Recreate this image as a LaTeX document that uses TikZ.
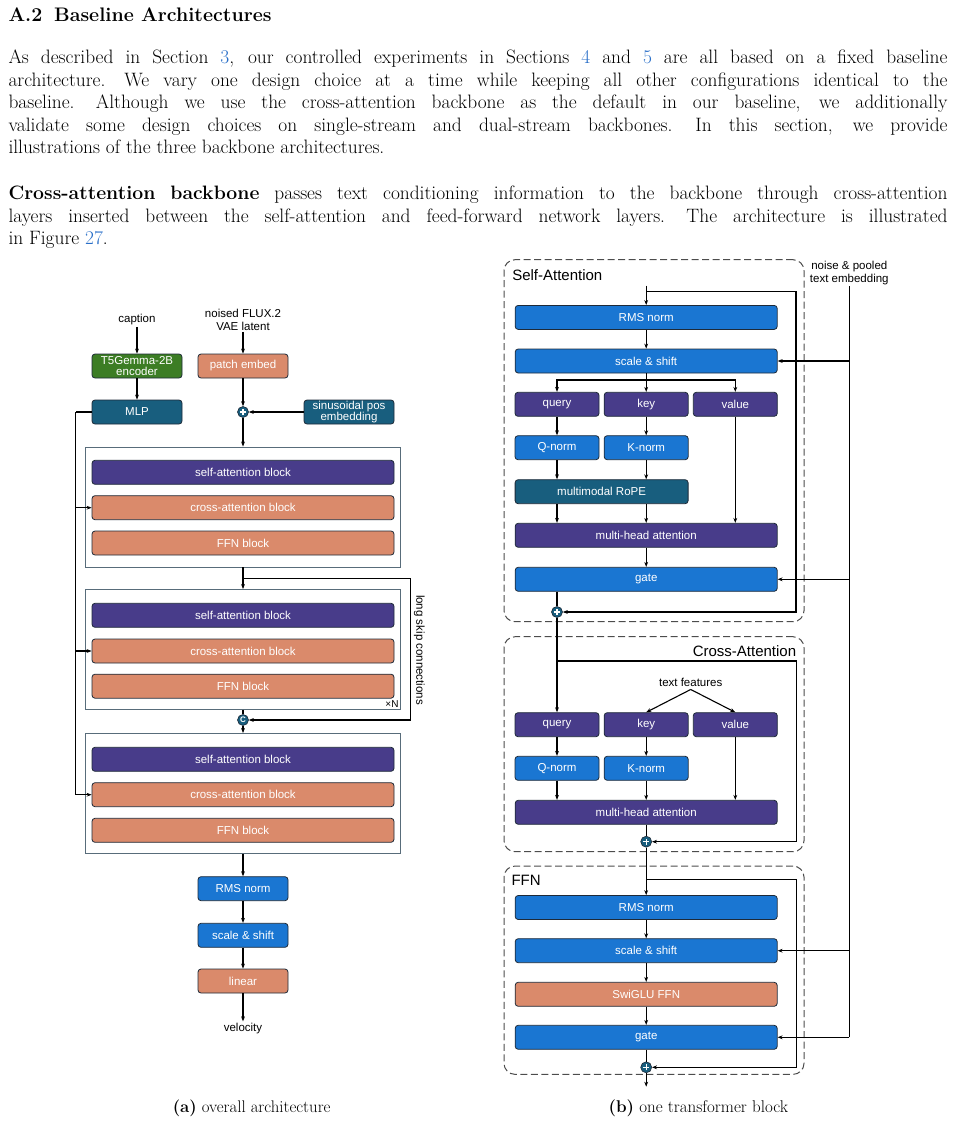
\documentclass[tikz,border=0pt]{standalone}
\usepackage{fontspec}
\setsansfont{Liberation Sans}
\usetikzlibrary{arrows.meta}
\definecolor{purp}{RGB}{72,60,138}
\definecolor{salm}{RGB}{218,138,107}
\definecolor{azur}{RGB}{26,118,210}
\definecolor{tealc}{RGB}{24,94,126}
\definecolor{grn}{RGB}{60,125,36}
\definecolor{edgec}{RGB}{30,42,56}
\definecolor{grpc}{RGB}{88,108,122}
\definecolor{linkc}{RGB}{40,110,200}
\newcommand{\reflink}[1]{\textcolor{linkc}{#1}}
\newcommand{\fullline}[1]{\makebox[939pt][s]{\spaceskip=0.25em plus 1fil\relax
  \xspaceskip=0.36em plus 1.3fil\relax #1}}

\begin{document}
\begin{tikzpicture}[x=1pt, y=-1pt, line width=1.1pt,
  arr/.style={-{Stealth[length=5pt,width=3.8pt]}},
  body/.style={anchor=base west, inner sep=0pt, font=\fontsize{19.4}{22}\selectfont},
  lbl/.style={inner sep=1pt, align=center, font=\sffamily\fontsize{11.5}{13}\selectfont},
  ttl/.style={inner sep=0pt, font=\sffamily\fontsize{15}{17}\selectfont},
  blk/.style={draw=edgec, line width=0.8pt, rounded corners=3pt, text=white, inner sep=0pt,
    minimum height=24pt, align=center, font=\sffamily\fontsize{11.5}{12.5}\selectfont},
  sbox/.style={blk, minimum width=90pt},
  wbox/.style={blk, minimum width=302pt},
  rbox/.style={blk, minimum width=262pt},
  qbox/.style={blk, minimum width=84pt},
  grp/.style={draw=grpc, line width=0.9pt, minimum width=315pt, minimum height=120pt, inner sep=0pt},
  dgrp/.style={draw=black!70, line width=1pt, dash pattern=on 7pt off 3.5pt, rounded corners=11pt,
    minimum width=300pt, inner sep=0pt},
  plusc/.style={circle, fill=tealc, draw=edgec, line width=0.6pt, minimum size=11pt, inner sep=0pt,
    path picture={\draw[white, line width=1.3pt]
      ([xshift=-3pt]path picture bounding box.center) -- ([xshift=3pt]path picture bounding box.center)
      ([yshift=-3pt]path picture bounding box.center) -- ([yshift=3pt]path picture bounding box.center);}},
  catc/.style={circle, fill=tealc, draw=edgec, line width=0.6pt, minimum size=11pt, inner sep=0pt,
    text=white, font=\sffamily\bfseries\fontsize{8}{8}\selectfont}]
\useasboundingbox (0,0) rectangle (955,1122);

\node[anchor=base west, inner sep=0pt, font=\bfseries\fontsize{19.6}{22}\selectfont] (head) at (8,21) {A.2\hspace{0.6em}Baseline Architectures};
\node[body] (pa1) at (8,63) {\fullline{As described in Section \reflink{3}, our controlled experiments in Sections \reflink{4} and \reflink{5} are all based on a fixed baseline}};
\node[body] (pa2) at (8,86) {\fullline{architecture. We vary one design choice at a time while keeping all other configurations identical to the}};
\node[body] (pa3) at (8,108) {\fullline{baseline. Although we use the cross-attention backbone as the default in our baseline, we additionally}};
\node[body] (pa4) at (8,131) {\fullline{validate some design choices on single-stream and dual-stream backbones. In this section, we provide}};
\node[body] (pa5) at (8,153) {illustrations of the three backbone architectures.};
\node[body] (pb1) at (8,199) {\fullline{\textbf{Cross-attention backbone} passes text conditioning information to the backbone through cross-attention}};
\node[body] (pb2) at (8,222) {\fullline{layers inserted between the self-attention and feed-forward network layers. The architecture is illustrated}};
\node[body] (pb3) at (8,244) {in Figure \reflink{27}.};

\draw (243,507) node[grp](grp1){}
    (243,649.5) node[grp](grp2){}
    (243,793.5) node[grp](grp3){};
\draw (137,320) node[lbl](cap){caption}
    (137,366) node[sbox, fill=grn](t5){T5Gemma-2B\\[-1pt]encoder}
    (137,412) node[sbox, fill=tealc](mlp){MLP}
    (243,319.5) node[lbl](noised){noised FLUX.2\\VAE latent}
    (243,366) node[sbox, fill=salm](patch){patch embed}
    (243,412) node[plusc](add1){}
    (349,412) node[sbox, fill=tealc](sin){sinusoidal pos\\[-1pt]embedding};
\draw (243,472.3) node[wbox, fill=purp](sa1){self-attention block}
    (243,507.7) node[wbox, fill=salm](ca1){cross-attention block}
    (243,543) node[wbox, fill=salm](ffn1){FFN block}
    (243,615.3) node[wbox, fill=purp](sa2){self-attention block}
    (243,651) node[wbox, fill=salm](ca2){cross-attention block}
    (243,686.2) node[wbox, fill=salm](ffn2){FFN block}
    (243,759.3) node[wbox, fill=purp](sa3){self-attention block}
    (243,794.7) node[wbox, fill=salm](ca3){cross-attention block}
    (243,830.3) node[wbox, fill=salm](ffn3){FFN block};
\draw (243,720) node[catc](cat){C}
    (392,704) node[lbl, font=\sffamily\fontsize{10}{11}\selectfont](xn){×N}
    (419.3,650) node[lbl, rotate=-90](skip){long skip connections}
    (243,888.7) node[sbox, fill=azur](rms0){RMS norm}
    (243,935.3) node[sbox, fill=azur](ss0){scale \& shift}
    (243,981) node[sbox, fill=salm](lin){linear}
    (243,1028.3) node[lbl](vel){velocity}
    (251.7,1108) node[font=\fontsize{16.8}{18}\selectfont](capa){\textbf{(a)} overall architecture};

\coordinate (bus) at (75.7,412);
\coordinate (skipa) at (243,578.3);
\coordinate (skipr) at (410.7,578.3);
\draw [arr] (cap) -- (t5);
\draw [arr] (t5) -- (mlp);
\draw [arr] (noised) -- (patch);
\draw [arr] (patch) -- (add1);
\draw [arr] (sin) -- (add1);
\draw [arr] (add1) -- (grp1);
\draw [arr] (grp1) -- (grp2);
\draw [arr] (skipa) -- (skipr) |- (cat);
\draw (grp2) -- (cat);
\draw [arr] (cat) -- (grp3);
\draw [arr] (grp3) -- (rms0);
\draw [arr] (rms0) -- (ss0);
\draw [arr] (ss0) -- (lin);
\draw [arr] (lin) -- (vel);
\draw (mlp) -- (bus);
\foreach \c in {ca1,ca2,ca3}
    \draw [arr] (bus) |- (\c);

\draw (654,440.7) node[dgrp, minimum height=362pt](sagrp){}
    (654,744.2) node[dgrp, minimum height=215pt](cagrp){}
    (654,970.2) node[dgrp, minimum height=208.3pt](ffgrp){};
\draw (511.7,275) node[ttl, anchor=west](satl){Self-Attention}
    (796.7,651) node[ttl, anchor=east](catl){Cross-Attention}
    (511,880.7) node[ttl, anchor=west](fftl){FFN}
    (849.3,273) node[lbl](noise){noise \& pooled\\text embedding}
    (690.7,682.7) node[lbl, inner sep=2pt](textf){text features};
\draw (646.2,317.4) node[rbox, fill=azur](rms1){RMS norm}
    (646.2,361) node[rbox, fill=azur](ss1){scale \& shift}
    (557,404.3) node[qbox, fill=purp](q1){query}
    (646.2,404.3) node[qbox, fill=purp](k1){key}
    (735.3,404.3) node[qbox, fill=purp](v1){value}
    (557,447.7) node[qbox, fill=azur](qn1){Q-norm}
    (646.2,447.7) node[qbox, fill=azur](kn1){K-norm}
    (601.6,491.7) node[blk, minimum width=173pt, fill=tealc](rope){multimodal RoPE}
    (646.2,535.3) node[rbox, fill=purp](mha1){multi-head attention}
    (646.2,579.3) node[rbox, fill=azur](gate1){gate}
    (557,612) node[plusc](add2){};
\draw (557,724.7) node[qbox, fill=purp](q2){query}
    (646.2,724.7) node[qbox, fill=purp](k2){key}
    (735.3,724.7) node[qbox, fill=purp](v2){value}
    (557,768.3) node[qbox, fill=azur](qn2){Q-norm}
    (646.2,768.3) node[qbox, fill=azur](kn2){K-norm}
    (646.2,812.3) node[rbox, fill=purp](mha2){multi-head attention}
    (646.2,841.7) node[plusc](add3){};
\draw (646.2,907.5) node[rbox, fill=azur](rms2){RMS norm}
    (646.2,950.7) node[rbox, fill=azur](ss2){scale \& shift}
    (646.2,994.3) node[rbox, fill=salm](swig){SwiGLU FFN}
    (646.2,1037.3) node[rbox, fill=azur](gate2){gate}
    (646.2,1067.3) node[plusc](add4){}
    (698.3,1108) node[font=\fontsize{17}{18}\selectfont](capb){\textbf{(b)} one transformer block};

\coordinate (sain) at (646.2,285.7);
\coordinate (res1) at (646.2,291.7);
\coordinate (res1r) at (796,291.7);
\coordinate (qkv1) at (646.2,380);
\coordinate (res2) at (557,661);
\coordinate (res2r) at (796.7,661);
\coordinate (res3) at (646.2,879.3);
\coordinate (res3r) at (796.7,879.3);
\coordinate (out) at (646.2,1086.7);
\draw [arr] (sain) -- (rms1);
\draw [arr] (res1) -- (res1r) |- (add2);
\draw [arr] (rms1) -- (ss1);
\draw (ss1) -- (qkv1);
\draw [arr] (qkv1) -| (q1);
\draw [arr] (qkv1) -- (k1);
\draw [arr] (qkv1) -| (v1);
\draw [arr] (q1) -- (qn1);
\draw [arr] (k1) -- (kn1);
\draw [arr] (qn1.south) -- (qn1.south |- rope.north);
\draw [arr] (kn1.south) -- (kn1.south |- rope.north);
\draw [arr] (q1 |- rope.south) -- (q1 |- mha1.north);
\draw [arr] (k1 |- rope.south) -- (k1 |- mha1.north);
\draw [arr] (v1) -- (v1 |- mha1.north);
\draw [arr] (mha1) -- (gate1);
\draw (q1 |- gate1.south) -- (add2);
\draw (noise) -- (noise |- gate2);
\foreach \t in {ss1,gate1,ss2,gate2}
    \draw [arr] (noise |- \t) -- (\t);
\draw [arr] (add2) -- (q2);
\draw [arr] (res2) -- (res2r) |- (add3);
\draw [arr] (textf.south) -- (k2.north);
\draw [arr] (textf.south) -- (v2.north);
\draw [arr] (q2) -- (qn2);
\draw [arr] (k2) -- (kn2);
\draw [arr] (qn2) -- (qn2 |- mha2.north);
\draw [arr] (kn2) -- (kn2 |- mha2.north);
\draw [arr] (v2) -- (v2 |- mha2.north);
\draw (mha2) -- (add3);
\draw [arr] (add3) -- (rms2);
\draw [arr] (res3) -- (res3r) |- (add4);
\draw [arr] (rms2) -- (ss2);
\draw [arr] (ss2) -- (swig);
\draw [arr] (swig) -- (gate2);
\draw (gate2) -- (add4);
\draw [arr] (add4) -- (out);
\end{tikzpicture}
\end{document}
